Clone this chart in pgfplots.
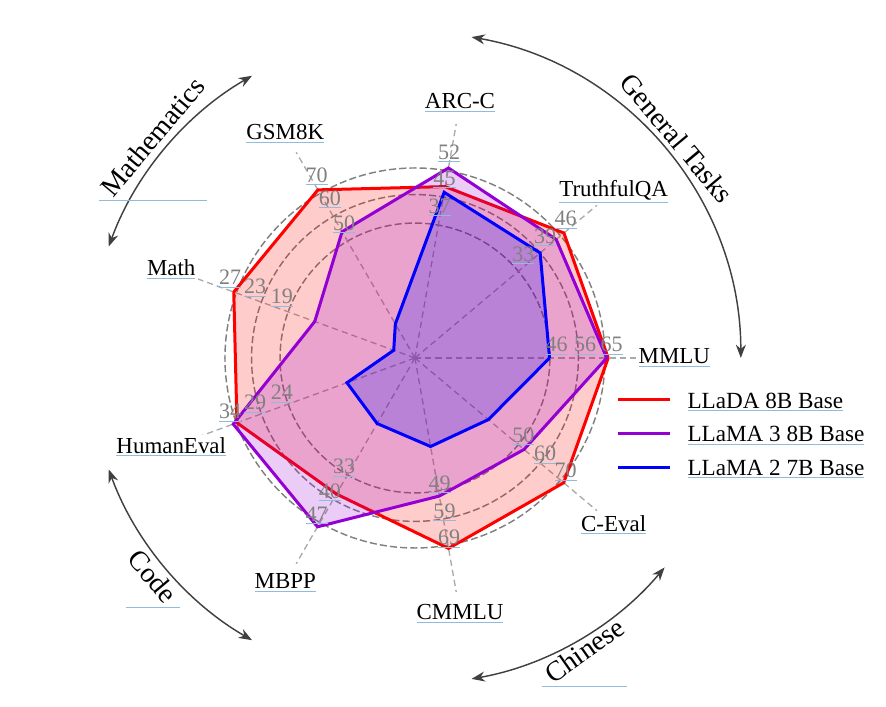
\documentclass[border=0pt]{standalone}
\usepackage{pgfplots}
\pgfplotsset{compat=1.18}
\usepackage{pgfplotstable}
\usepackage{graphicx}
\usepackage{fontspec}
\setmainfont{Liberation Serif}
\usetikzlibrary{arrows.meta}

\definecolor{llada}{RGB}{255,0,0}
\definecolor{llamathree}{RGB}{148,0,211}
\definecolor{llamatwo}{RGB}{0,0,255}
\definecolor{ulc}{RGB}{143,188,219}
\definecolor{ringc}{RGB}{128,128,128}
\definecolor{spokec}{RGB}{170,170,170}
\definecolor{arcc}{RGB}{64,64,64}

% thin light-blue line under a box, as in the original
\newcommand{\ul}[1]{\setbox0\hbox{#1}\rlap{\color{ulc}\rule[-\dimexpr\dp0+1.3pt\relax]{\wd0}{0.45pt}}\box0}

% scale = value that sits on the outer ring of that spoke
\pgfplotstableread{
angle scale llada llama3 llama2
0    64.8   65.9 65.4 45.9
40   45.35  46.4 44.0 39.0
80   52.3   47.9 53.1 46.3
120  69.2   70.7 53.1 14.3
160  26.9   27.3 15.1 3.2
200  33.6   33.5 34.2 12.8
240  46.2   38.2 47.4 18.4
280  68.7   69.9 50.7 32.5
320  69.0   70.5 51.7 34.8
360  64.8   65.9 65.4 45.9
}\scores

\begin{document}
\begin{tikzpicture}[x=3cm, y=3cm]
\path (-2.184,-1.832) rectangle (2.479,1.884);

% rings and spokes
\foreach \r in {0.71,0.86,1}
  \draw[ringc, line width=0.65pt, dash pattern=on 3.2pt off 1.4pt] (0,0) circle[radius=\r];
\foreach \a in {0,40,...,320}
  \draw[spokec, line width=0.6pt, dash pattern=on 2.8pt off 1.8pt] (0,0) -- (\a:1.25);

\begin{axis}[
    anchor=origin, at={(0,0)},
    x=3cm, y=3cm,
    xmin=-2.184, xmax=2.479, ymin=-1.832, ymax=1.884,
    hide axis, clip=false,
    ]
\addplot[draw=llada, line width=1.35pt, fill=llada, fill opacity=0.2]
  table[x expr={\thisrow{llada}/\thisrow{scale}*cos(\thisrow{angle})},
        y expr={\thisrow{llada}/\thisrow{scale}*sin(\thisrow{angle})}] {\scores};
\addplot[draw=llamathree, line width=1.35pt, fill=llamathree, fill opacity=0.2]
  table[x expr={\thisrow{llama3}/\thisrow{scale}*cos(\thisrow{angle})},
        y expr={\thisrow{llama3}/\thisrow{scale}*sin(\thisrow{angle})}] {\scores};
\addplot[draw=llamatwo, line width=1.35pt, fill=llamatwo, fill opacity=0.2]
  table[x expr={\thisrow{llama2}/\thisrow{scale}*cos(\thisrow{angle})},
        y expr={\thisrow{llama2}/\thisrow{scale}*sin(\thisrow{angle})}] {\scores};
\end{axis}

% ring values on each spoke
\foreach \a/\p/\q/\s in {0/46/56/65, 40/33/39/46, 80/37/45/52, 120/50/60/70,
    160/19/23/27, 200/24/29/34, 240/33/40/47, 280/49/59/69, 320/50/60/70} {
  \node[text=ringc, inner sep=0, font=\fontsize{9.9}{12}\selectfont]
    at ({0.745*cos(\a)},{0.74*sin(\a)+0.063}) {\ul{\p}};
  \node[text=ringc, inner sep=0, font=\fontsize{9.9}{12}\selectfont]
    at ({0.895*cos(\a)},{0.89*sin(\a)+0.063}) {\ul{\q}};
  \node[text=ringc, inner sep=0, font=\fontsize{9.9}{12}\selectfont]
    at ({1.035*cos(\a)},{1.03*sin(\a)+0.063}) {\ul{\s}};
}

% spoke names
\foreach \a/\t in {0/MMLU, 40/TruthfulQA, 80/ARC-C, 120/GSM8K, 160/Math,
    200/HumanEval, 240/MBPP, 280/CMMLU, 320/C-Eval}
  \node[fill=white, inner sep=1pt, font=\fontsize{10.3}{12}\selectfont] at (\a:1.365) {\ul{\t}};

% groups
\foreach \s/\e in {0/80, 120/160, 200/240, 280/320}
  \draw[arcc, line width=0.65pt,
        {Stealth[length=6pt, width=4.5pt]}-{Stealth[length=6pt, width=4.5pt]}]
    (\s:1.715) arc[start angle=\s, end angle=\e, radius=1.715];
\begin{scope}[every node/.style={inner sep=0, font=\fontsize{12.6}{15}\selectfont}]
\node at (40:1.80) {\rotatebox{-50}{General Tasks}};
\node at (140:1.80) {\ul{\rotatebox{50}{Mathematics}}};
\node at (220:1.80) {\ul{\rotatebox{-50}{Code}}};
\node at (300:1.785) {\ul{\rotatebox{35}{Chinese}}};
\end{scope}

% legend
\draw[llada, line width=1.35pt] (1.068,-0.221) -- (1.342,-0.221);
\draw[llamathree, line width=1.35pt] (1.068,-0.397) -- (1.342,-0.397);
\draw[llamatwo, line width=1.35pt] (1.068,-0.574) -- (1.342,-0.574);
\begin{scope}[every node/.style={anchor=base west, inner sep=0, font=\fontsize{10.4}{12}\selectfont}]
\node at (1.432,-0.265) {\ul{LLaDA 8B Base}};
\node at (1.432,-0.440) {\ul{LLaMA 3 8B Base}};
\node at (1.432,-0.616) {\ul{LLaMA 2 7B Base}};
\end{scope}
\end{tikzpicture}
\end{document}
